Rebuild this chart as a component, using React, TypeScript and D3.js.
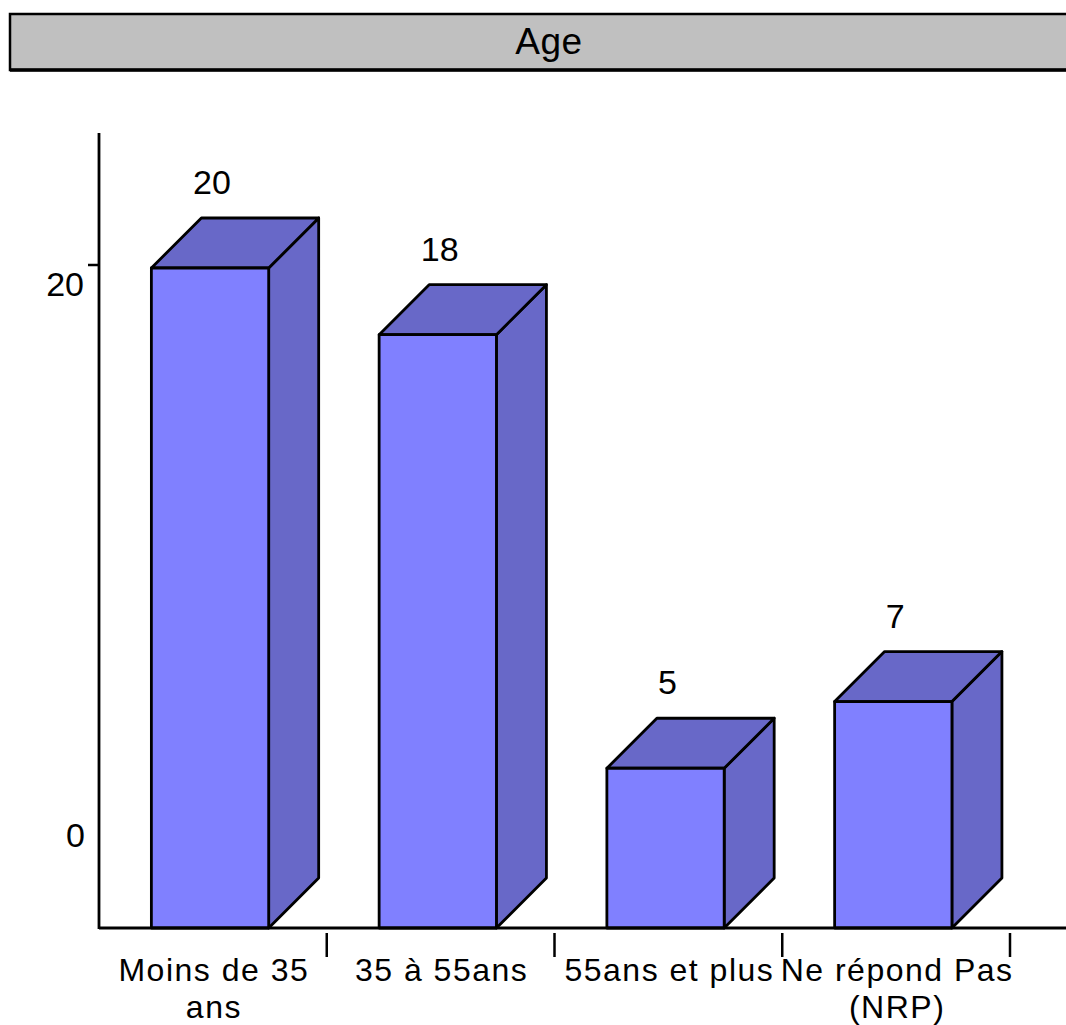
import * as d3 from 'd3';

const categories = ['Moins de 35 ans', '35 à 55ans', '55ans et plus', 'Ne répond Pas (NRP)'];
const categoryLines = [['Moins de 35', 'ans'], ['35 à 55ans'], ['55ans et plus'], ['Ne répond Pas', '(NRP)']];
const values = [20, 18, 5, 7];
const yTicks = [0, 20];

const width = 1066;
const height = 1025;
const axisX = 99;
const axisY = 928;
const depth = 50;
const front = '#8080ff';
const side = '#6868c8';
const font = '"Liberation Sans", Arial, sans-serif';

export default function App() {
  const x = d3.scaleBand<string>().domain(categories).range([axisX, 1010]);
  const y = d3.scaleLinear([0, 20], [935, 268]);
  const bw = x.bandwidth();
  const barOff = bw * 0.23;
  const barW = bw * 0.515;

  return (
    <svg
      width={width}
      height={height}
      style={{ position: 'absolute', left: 0, top: 0, fontFamily: font }}
    >
      <defs>
        <clipPath id="labels">
          <rect x={0} y={0} width={1012} height={height} />
        </clipPath>
      </defs>
      {/* title bar */}
      <rect x={10} y={14} width={1070} height={56} fill="#c0c0c0" stroke="black" strokeWidth={2.5} />
      <line x1={10} x2={width} y1={70} y2={70} stroke="black" strokeWidth={3.5} />
      <text x={549} y={54} fontSize={37} textAnchor="middle" letterSpacing={0.5}>
        Age
      </text>

      {/* bars */}
      {values.map((v, i) => {
        const x0 = (x(categories[i]) ?? 0) + barOff;
        const x1 = x0 + barW;
        const top = y(v);
        return (
          <g key={i} stroke="black" strokeWidth={2.8} strokeLinejoin="round">
            <path
              d={`M${x1},${axisY} L${x1 + depth},${axisY - depth} L${x1 + depth},${top - depth} L${x1},${top} Z`}
              fill={side}
            />
            <path
              d={`M${x0},${top} L${x0 + depth},${top - depth} L${x1 + depth},${top - depth} L${x1},${top} Z`}
              fill={side}
            />
            <rect x={x0} y={top} width={barW} height={axisY - top} fill={front} />
            <text
              x={(x0 + x1) / 2 + 2}
              y={top - 74}
              fontSize={34}
              textAnchor="middle"
              stroke="none"
              fill="black"
            >
              {v}
            </text>
          </g>
        );
      })}

      {/* axes */}
      <line x1={axisX} x2={axisX} y1={133} y2={axisY + 1} stroke="black" strokeWidth={2.8} />
      <line x1={axisX} x2={width} y1={axisY} y2={axisY} stroke="black" strokeWidth={2.8} />
      <line x1={88} x2={axisX} y1={y(20) - 3} y2={y(20) - 3} stroke="black" strokeWidth={2.5} />
      {yTicks.map((t) => (
        <text
          key={t}
          x={t === 0 ? 85 : 84}
          y={t === 0 ? y(t) - 88 : y(t) + 28}
          fontSize={34}
          textAnchor="end"
        >
          {t}
        </text>
      ))}
      {categories.map((c) => (
        <line
          key={c}
          x1={(x(c) ?? 0) + bw}
          x2={(x(c) ?? 0) + bw}
          y1={933}
          y2={957}
          stroke="black"
          strokeWidth={2.5}
        />
      ))}
      <g clipPath="url(#labels)">
        {categories.map((c, i) => (
          <text key={c} fontSize={32} textAnchor="middle" letterSpacing={1.5}>
            {categoryLines[i].map((line, j) => (
              <tspan key={j} x={(x(c) ?? 0) + bw / 2 + 1} y={981 + j * 37}>
                {line}
              </tspan>
            ))}
          </text>
        ))}
      </g>
    </svg>
  );
}
